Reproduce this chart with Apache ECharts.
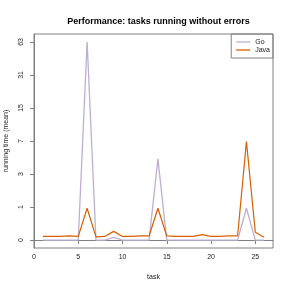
<!DOCTYPE html>
<html><head><meta charset="utf-8">
<script src="https://cdn.jsdelivr.net/npm/echarts@6/dist/echarts.min.js"></script>
<style>html,body{margin:0;padding:0;background:#fff}#c{width:291px;height:291px}</style>
</head><body><div id="c"></div>
<script>
const tasks = [1,2,3,4,5,6,7,8,9,10,11,12,13,14,15,16,17,18,19,20,21,22,23,24,25,26];
const goValues = [0,0,0,0,0,63,0,0,0.06,0,0,0,0,4.5,0,0,0,0,0,0,0,0,0,0.95,0,0];
const javaValues = [0.08,0.08,0.08,0.09,0.08,0.95,0.07,0.08,0.2,0.08,0.08,0.09,0.09,0.95,0.09,0.08,0.08,0.08,0.12,0.08,0.08,0.09,0.09,6.9,0.18,0.06];
const yTickValues = [0,1,3,7,15,31,63];
const xTickInterval = 5;

const tf = v => Math.log2(v + 1);
const pts = vals => tasks.map((t, i) => [t, tf(vals[i])]);

const chart = echarts.init(document.getElementById('c'), null, {renderer: 'canvas'});
const axisCol = '#808080';
chart.setOption({
  animation: false,
  backgroundColor: '#fff',
  textStyle: {fontFamily: 'Liberation Sans, Arial, sans-serif'},
  title: {
    text: 'Performance: tasks running without errors',
    left: 153.5, top: 12, textAlign: 'center',
    textStyle: {fontSize: 9, fontWeight: 'bold', color: '#000', fontFamily: 'Liberation Sans, Arial, sans-serif'}
  },
  legend: {
    orient: 'vertical', right: 18, top: 34,
    borderColor: axisCol, borderWidth: 1, borderRadius: 0,
    padding: [4, 3, 4, 5], itemGap: 0, itemWidth: 14, itemHeight: 1.3,
    icon: 'rect',
    textStyle: {fontSize: 7, color: '#222', lineHeight: 8},
    data: ['Go', 'Java']
  },
  grid: {left: 34, right: 18, top: 34, bottom: 43, show: true, borderColor: axisCol, borderWidth: 1, containLabel: false, outerBoundsMode: 'none'},
  xAxis: {
    type: 'value', min: 0, max: 27, interval: xTickInterval,
    name: 'task', nameLocation: 'middle', nameGap: 26,
    nameTextStyle: {fontSize: 7, color: '#222'},
    axisLine: {show: true, lineStyle: {color: axisCol}},
    axisTick: {show: true, inside: false, length: 4, lineStyle: {color: axisCol}, customValues: [0,5,10,15,20,25]},
    axisLabel: {fontSize: 7, color: '#222', margin: 6, customValues: [0,5,10,15,20,25]},
    splitLine: {show: false}
  },
  yAxis: {
    type: 'value', min: -0.24, max: 6.24,
    name: 'running time (mean)', nameLocation: 'middle', nameGap: 24, nameRotate: 90,
    nameTextStyle: {fontSize: 7, color: '#222'},
    axisLine: {show: true, lineStyle: {color: axisCol}},
    axisTick: {show: true, length: 4, lineStyle: {color: axisCol}, customValues: yTickValues.map(tf)},
    axisLabel: {fontSize: 7, color: '#222', rotate: 90, margin: 9,
      customValues: yTickValues.map(tf),
      formatter: v => String(Math.round(Math.pow(2, v) - 1))},
    splitLine: {show: false}
  },
  series: [
    {name: 'Go', type: 'line', data: pts(goValues), symbol: 'none', lineStyle: {color: '#BEAED4', width: 1.3}, itemStyle: {color: '#BEAED4'}},
    {name: 'Java', type: 'line', data: pts(javaValues), symbol: 'none', lineStyle: {color: '#D95F02', width: 1.2}, itemStyle: {color: '#D95F02'}}
  ]
});
</script></body></html>
